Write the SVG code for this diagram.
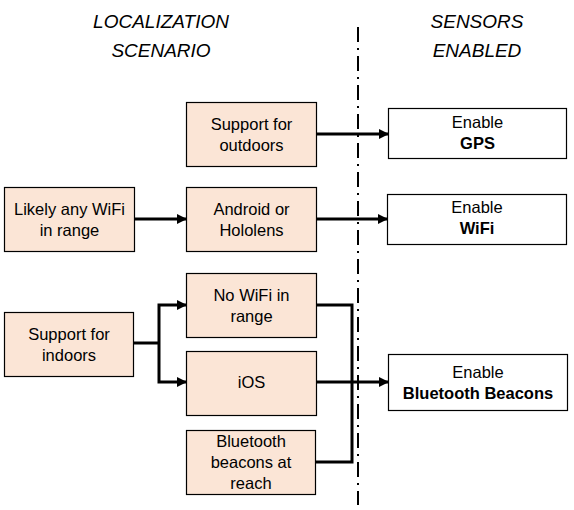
<svg xmlns="http://www.w3.org/2000/svg" width="574" height="510" viewBox="0 0 574 510">
<defs>
<style>
.n{fill:#FBE5D6;stroke:#000;stroke-width:1.2}
.s{fill:#fff;stroke:#000;stroke-width:1.2}
.t{font-family:"Liberation Sans",Arial,sans-serif;font-size:16.5px;fill:#000;text-anchor:middle}
.b{font-weight:bold}
.h{font-family:"Liberation Sans",Arial,sans-serif;font-size:19px;font-style:italic;fill:#000;text-anchor:middle}
.c{fill:none;stroke:#000;stroke-width:3}
.a{marker-end:url(#ah)}
</style>
<marker id="ah" viewBox="0 0 10 10" refX="9" refY="5" markerWidth="3.4" markerHeight="3.4" orient="auto" markerUnits="strokeWidth">
<path d="M0,0 L10,5 L0,10 z" fill="#000"/>
</marker>
</defs>
<g id="headings">
<text class="h" x="161" y="28">LOCALIZATION</text>
<text class="h" x="161" y="57">SCENARIO</text>
<text class="h" x="477" y="28">SENSORS</text>
<text class="h" x="477" y="57">ENABLED</text>
</g>
<g id="divider">
<line x1="358" y1="27" x2="358" y2="505" stroke="#000" stroke-width="2" stroke-dasharray="15 6 2 6"/>
</g>
<g id="connectors">
<line class="c a" x1="316" y1="134" x2="388" y2="134"/>
<line class="c a" x1="134" y1="219" x2="186" y2="219"/>
<line class="c a" x1="316" y1="219" x2="387" y2="219"/>
<polyline class="c" points="133,343 159,343"/>
<polyline class="c a" points="159,343 159,305 186,305"/>
<polyline class="c a" points="159,343 159,382 186,382"/>
<polyline class="c" points="316,305 352,305 352,462 315,462"/>
<line class="c a" x1="316" y1="382" x2="388" y2="382"/>
</g>
<g id="outdoors">
<rect class="n" x="186.5" y="102.5" width="130" height="64"/>
<text class="t" x="251.5" y="130">Support for</text>
<text class="t" x="251.5" y="151">outdoors</text>
</g>
<g id="gps">
<rect class="s" x="388.5" y="108.5" width="178" height="50"/>
<text class="t" x="477.5" y="128">Enable</text>
<text class="t b" x="477.5" y="149">GPS</text>
</g>
<g id="likelywifi">
<rect class="n" x="4.5" y="187.5" width="130" height="64"/>
<text class="t" x="69.5" y="215">Likely any WiFi</text>
<text class="t" x="69.5" y="236">in range</text>
</g>
<g id="android">
<rect class="n" x="186.5" y="187.5" width="130" height="64"/>
<text class="t" x="251.5" y="215">Android or</text>
<text class="t" x="251.5" y="236">Hololens</text>
</g>
<g id="wifi">
<rect class="s" x="387.5" y="194.5" width="179" height="50"/>
<text class="t" x="477" y="213">Enable</text>
<text class="t b" x="477" y="234">WiFi</text>
</g>
<g id="nowifi">
<rect class="n" x="186.5" y="273.5" width="130" height="64"/>
<text class="t" x="251.5" y="301">No WiFi in</text>
<text class="t" x="251.5" y="322">range</text>
</g>
<g id="indoors">
<rect class="n" x="4.5" y="312.5" width="129" height="64"/>
<text class="t" x="69" y="340">Support for</text>
<text class="t" x="69" y="361">indoors</text>
</g>
<g id="ios">
<rect class="n" x="186.5" y="351.5" width="130" height="64"/>
<text class="t" x="251.5" y="388">iOS</text>
</g>
<g id="bt">
<rect class="s" x="388.5" y="354.5" width="179" height="56"/>
<text class="t" x="478" y="378">Enable</text>
<text class="t b" x="478" y="399">Bluetooth Beacons</text>
</g>
<g id="beacons">
<rect class="n" x="186.5" y="430.5" width="129" height="64"/>
<text class="t" x="251" y="447">Bluetooth</text>
<text class="t" x="251" y="468">beacons at</text>
<text class="t" x="251" y="489">reach</text>
</g>
</svg>
